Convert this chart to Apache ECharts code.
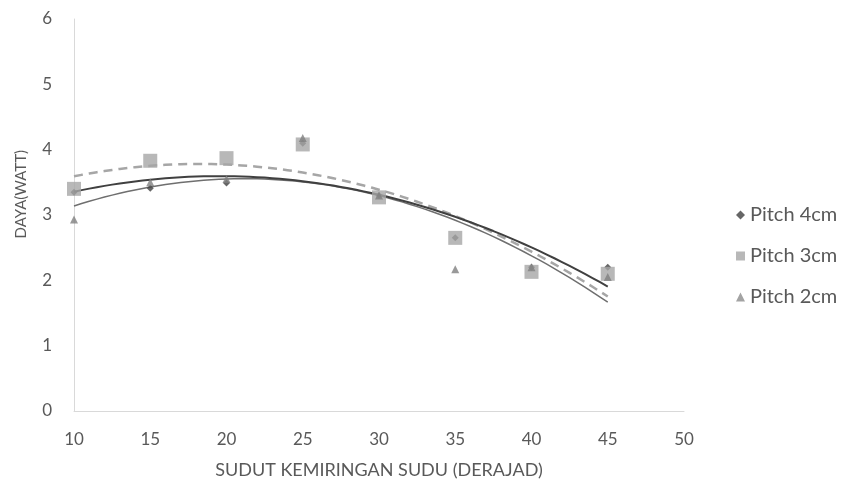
<!DOCTYPE html>
<html>
<head>
<meta charset="utf-8">
<script src="https://cdn.jsdelivr.net/npm/echarts@6/dist/echarts.min.js"></script>
<style>
  html, body { margin: 0; padding: 0; background: #fff; }
  #chart { width: 845px; height: 490px; }
</style>
</head>
<body>
<div id="chart"></div>
<script>
// sudut kemiringan sudu (derajad)
var angles = [10, 15, 20, 25, 30, 35, 40, 45]
// daya (watt) per pitch
var pitch4 = [3.35, 3.41, 3.49, 4.1, 3.3, 2.65, 2.2, 2.2]
var pitch3 = [3.4, 3.83, 3.87, 4.08, 3.27, 2.65, 2.13, 2.1]
var pitch2 = [2.93, 3.5, 3.55, 4.18, 3.3, 2.17, 2.2, 2.05]
var seriesNames = ['Pitch 4cm', 'Pitch 3cm', 'Pitch 2cm']

// least squares poly order 2, like the excel trendline
function polyFit(xs, ys) {
  var n = xs.length, s = [0, 0, 0, 0, 0], t = [0, 0, 0]
  for (var i = 0; i < n; i++) {
    var p = 1
    for (var k = 0; k < 5; k++) {
      s[k] += p
      if (k < 3) t[k] += p * ys[i]
      p *= xs[i]
    }
  }
  var m = [
    [s[0], s[1], s[2], t[0]],
    [s[1], s[2], s[3], t[1]],
    [s[2], s[3], s[4], t[2]]
  ]
  for (var c = 0; c < 3; c++) {
    for (var r = c + 1; r < 3; r++) {
      var f = m[r][c] / m[c][c]
      for (var j = c; j < 4; j++) m[r][j] -= f * m[c][j]
    }
  }
  var b = [0, 0, 0]
  for (var r2 = 2; r2 >= 0; r2--) {
    var v = m[r2][3]
    for (var j2 = r2 + 1; j2 < 3; j2++) v -= m[r2][j2] * b[j2]
    b[r2] = v / m[r2][r2]
  }
  return b
}

function trend(ys) {
  var b = polyFit(angles, ys), out = []
  for (var x = angles[0]; x <= angles[angles.length - 1] + 1e-9; x += 0.5) {
    out.push([x, b[0] + b[1] * x + b[2] * x * x])
  }
  return out
}

function pairs(ys) {
  return angles.map(function (a, i) { return [a, ys[i]] })
}

var font = 'Lato'
var grey = '#595959'
var chart = echarts.init(document.getElementById('chart'))
chart.setOption({
  animation: false,
  textStyle: { fontFamily: font },
  grid: { left: 74, right: 161, top: 19, bottom: 79 },
  legend: {
    orient: 'vertical',
    left: 731,
    top: 200,
    itemGap: 21,
    itemWidth: 9,
    itemHeight: 9,
    data: [
      { name: 'Pitch 4cm', icon: 'diamond', itemStyle: { color: '#404040' } },
      { name: 'Pitch 3cm', icon: 'rect', itemStyle: { color: '#a6a6a6' } },
      { name: 'Pitch 2cm', icon: 'triangle', itemStyle: { color: '#8c8c8c' } }
    ],
    textStyle: { fontSize: 20, color: grey, fontFamily: font }
  },
  graphic: [
    {
      type: 'text',
      left: 14,
      top: 150,
      rotation: Math.PI / 2,
      style: { text: 'DAYA(WATT)', fontSize: 15, fontFamily: font, fill: grey }
    }
  ],
  xAxis: {
    type: 'value',
    min: 10,
    max: 50,
    interval: 5,
    name: 'SUDUT KEMIRINGAN SUDU (DERAJAD)',
    nameLocation: 'middle',
    nameGap: 50,
    nameTextStyle: { fontSize: 18, color: grey },
    axisLine: { lineStyle: { color: '#d9d9d9' } },
    axisTick: { show: false },
    splitLine: { show: false },
    axisLabel: { fontSize: 17, color: grey, margin: 20 }
  },
  yAxis: {
    type: 'value',
    min: 0,
    max: 6,
    interval: 1,
    axisLine: { show: true, lineStyle: { color: '#d9d9d9' } },
    axisTick: { show: false },
    splitLine: { show: false },
    axisLabel: { fontSize: 17, color: grey, margin: 22 }
  },
  series: [
    {
      name: 'trend 3cm', type: 'line', data: trend(pitch3), showSymbol: false,
      lineStyle: { color: '#a6a6a6', width: 2.5, type: [9, 6] }, z: 1
    },
    {
      name: 'trend 2cm', type: 'line', data: trend(pitch2), showSymbol: false,
      lineStyle: { color: '#6f6f6f', width: 1.5 }, z: 1
    },
    {
      name: 'trend 4cm', type: 'line', data: trend(pitch4), showSymbol: false,
      lineStyle: { color: '#404040', width: 2 }, z: 1
    },
    {
      name: 'Pitch 4cm', type: 'scatter', data: pairs(pitch4),
      symbol: 'diamond', symbolSize: 7, itemStyle: { color: '#404040' }, z: 2
    },
    {
      name: 'Pitch 3cm', type: 'scatter', data: pairs(pitch3),
      symbol: 'rect', symbolSize: 14, itemStyle: { color: '#a6a6a6' }, z: 3
    },
    {
      name: 'Pitch 2cm', type: 'scatter', data: pairs(pitch2),
      symbol: 'triangle', symbolSize: 8, itemStyle: { color: '#7f7f7f' }, z: 4
    }
  ]
})
</script>
</body>
</html>
